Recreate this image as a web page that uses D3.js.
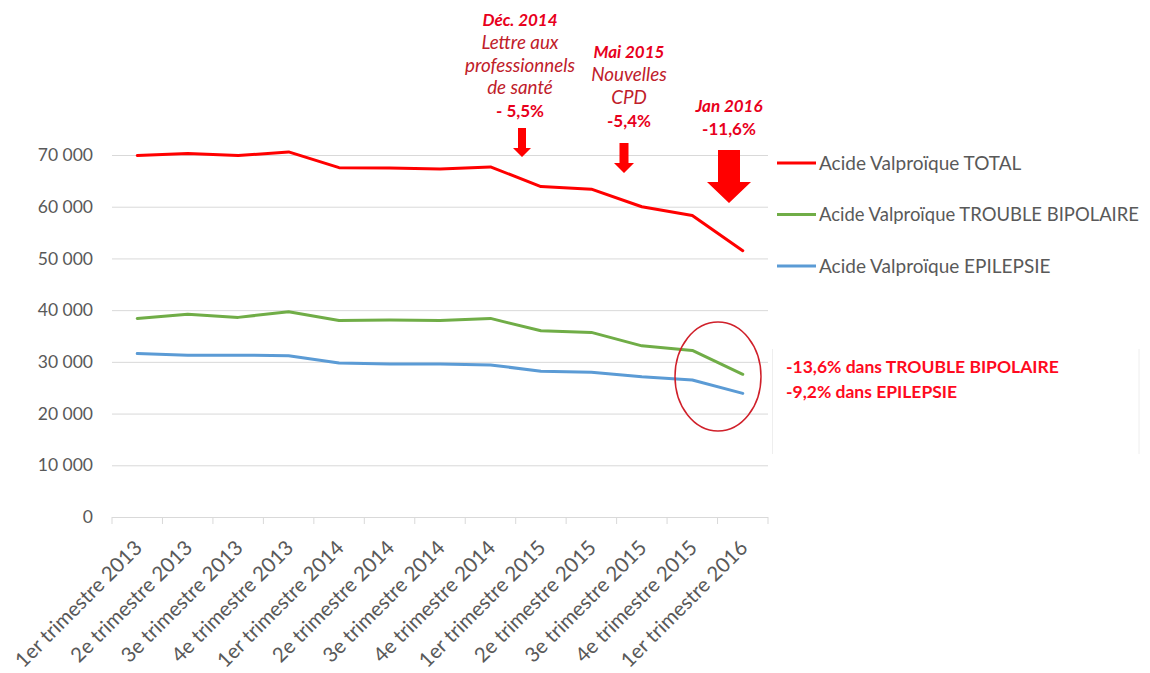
<!DOCTYPE html>
<html>
<head>
<meta charset="utf-8">
<script src="https://cdn.jsdelivr.net/npm/d3@7"></script>
<style>
  body { margin: 0; background: #fff; }
  text { font-family: Lato, "Open Sans", sans-serif; }
</style>
</head>
<body>
<div id="chart"></div>
<script>
// chart data
var quarters = ["1er trimestre 2013", "2e trimestre 2013", "3e trimestre 2013", "4e trimestre 2013",
  "1er trimestre 2014", "2e trimestre 2014", "3e trimestre 2014", "4e trimestre 2014",
  "1er trimestre 2015", "2e trimestre 2015", "3e trimestre 2015", "4e trimestre 2015",
  "1er trimestre 2016"];
var totalValues   = [69900, 70300, 69900, 70600, 67550, 67500, 67300, 67700, 63900, 63400, 60000, 58300, 51500];
var bipolarValues = [38400, 39200, 38600, 39700, 38000, 38100, 38000, 38400, 36000, 35700, 33100, 32200, 27600];
var epilepsyValues = [31600, 31300, 31300, 31200, 29800, 29600, 29600, 29400, 28200, 28000, 27100, 26500, 23900];
var yTicks = [0, 10000, 20000, 30000, 40000, 50000, 60000, 70000];

var series = [
  {name: "Acide Valproïque TOTAL", values: totalValues, color: "#FF0000"},
  {name: "Acide Valproïque TROUBLE BIPOLAIRE", values: bipolarValues, color: "#70AD47"},
  {name: "Acide Valproïque EPILEPSIE", values: epilepsyValues, color: "#5B9BD5"}
];

//SVG size
var svgWidth = 1150;
var svgHeight = 673;

var svg = d3.select("#chart")
  .append("svg")
  .attr("width", svgWidth)
  .attr("height", svgHeight);

//scales
var xScale = d3.scaleBand()
  .domain(quarters)
  .range([112, 768]);

var yScale = d3.scaleLinear()
  .domain([0, 70000])
  .range([517, 155]);

var fmt = function(d) { return d3.format(",")(d).replace(",", " "); };

//gridlines + y labels
var leftAxis = d3.axisLeft(yScale)
  .tickValues(yTicks)
  .tickSize(-(768 - 112))
  .tickPadding(19)
  .tickFormat(fmt);

var yAxisG = svg.append("g")
  .attr("transform", "translate(112,0)")
  .call(leftAxis);
yAxisG.select(".domain").remove();
yAxisG.selectAll("line").attr("stroke", "#D9D9D9").attr("stroke-width", 1);
yAxisG.selectAll("text")
  .attr("fill", "#595959")
  .style("font-size", "17.5px");

//x axis tick marks at band edges
var edges = quarters.map(function(q) { return xScale(q); }).concat([xScale.range()[1]]);
svg.append("g").selectAll("line")
  .data(edges)
  .enter().append("line")
  .attr("x1", d => d).attr("x2", d => d)
  .attr("y1", 517).attr("y2", 524)
  .attr("stroke", "#D9D9D9");

//x labels rotated
svg.append("g").selectAll("text")
  .data(quarters)
  .enter().append("text")
  .attr("transform", d => "translate(" + (xScale(d) + xScale.bandwidth() / 2 + 1) + ",544) rotate(-45)")
  .attr("text-anchor", "end")
  .attr("dy", "0.35em")
  .attr("fill", "#595959")
  .style("font-size", "20.5px")
  .text(d => d);

//lines
var line = d3.line()
  .x((d, i) => xScale(quarters[i]) + xScale.bandwidth() / 2)
  .y(d => yScale(d));

svg.append("g").selectAll("path")
  .data(series)
  .enter().append("path")
  .attr("d", d => line(d.values))
  .attr("fill", "none")
  .attr("stroke", d => d.color)
  .attr("stroke-width", 3)
  .attr("stroke-linejoin", "round")
  .attr("stroke-linecap", "round");

//legend
var legend = svg.append("g").selectAll("g")
  .data(series)
  .enter().append("g")
  .attr("transform", (d, i) => "translate(777," + (163 + i * 51.5) + ")");
legend.append("line")
  .attr("x1", 0).attr("x2", 39)
  .attr("stroke", d => d.color)
  .attr("stroke-width", 3);
legend.append("text")
  .attr("x", 42)
  .attr("dy", "0.35em")
  .attr("fill", "#595959")
  .style("font-size", "19px")
  .text(d => d.name)
  .each(function() {
    // keep long names inside the picture
    if (this.getComputedTextLength() > 320) {
      d3.select(this).attr("textLength", 320).attr("lengthAdjust", "spacingAndGlyphs");
    }
  });

//annotations
var darkRed = "#C0202A";
var brightRed = "#E8001C";
var notes = [
  {x: 520, lines: [["Déc. 2014", "bold", "italic", brightRed, 26], ["Lettre aux", "normal", "italic", darkRed, 48.5],
    ["professionnels", "normal", "italic", darkRed, 71.5], ["de santé", "normal", "italic", darkRed, 93.5],
    ["- 5,5%", "bold", "normal", brightRed, 116.5]]},
  {x: 629, lines: [["Mai 2015", "bold", "italic", brightRed, 57.5], ["Nouvelles", "normal", "italic", darkRed, 80.5],
    ["CPD", "normal", "italic", darkRed, 103.5], ["-5,4%", "bold", "normal", brightRed, 126.5]]},
  {x: 729, lines: [["Jan 2016", "bold", "italic", brightRed, 111.5], ["-11,6%", "bold", "normal", brightRed, 135]]}
];
notes.forEach(function(n) {
  svg.append("g").selectAll("text")
    .data(n.lines)
    .enter().append("text")
    .attr("x", n.x)
    .attr("y", d => d[4])
    .attr("text-anchor", "middle")
    .attr("fill", d => d[3])
    .style("font-size", d => d[1] === "bold" ? "17px" : "18.8px")
    .style("font-weight", d => d[1])
    .style("font-style", d => d[2])
    .text(d => d[0]);
});

//arrows: cx, top, shaft half width, head start, head half width, tip
var arrows = [
  [522, 128, 4, 148, 9, 157],
  [624, 143, 4.5, 163, 10, 173],
  [729, 150, 11, 182, 22, 203]
];
svg.append("g").selectAll("path")
  .data(arrows)
  .enter().append("path")
  .attr("d", a => "M" + (a[0] - a[2]) + "," + a[1] + "H" + (a[0] + a[2]) + "V" + a[3] +
    "H" + (a[0] + a[4]) + "L" + a[0] + "," + a[5] + "L" + (a[0] - a[4]) + "," + a[3] +
    "H" + (a[0] - a[2]) + "Z")
  .attr("fill", "#FF0000");

//ellipse
svg.append("ellipse")
  .attr("cx", 718).attr("cy", 376.5)
  .attr("rx", 43).attr("ry", 54.5)
  .attr("fill", "none")
  .attr("stroke", "#D0202A")
  .attr("stroke-width", 1.5);

//text box with faint borders
svg.append("g").selectAll("line")
  .data([772.5, 1139])
  .enter().append("line")
  .attr("x1", d => d).attr("x2", d => d)
  .attr("y1", 349).attr("y2", 454)
  .attr("stroke", "#EEEEEE");

svg.append("g").selectAll("text")
  .data([["-13,6% dans TROUBLE BIPOLAIRE", 373], ["-9,2% dans EPILEPSIE", 397.5]])
  .enter().append("text")
  .attr("x", 786)
  .attr("y", d => d[1])
  .attr("fill", "#FF0A1E")
  .style("font-size", "17.5px")
  .style("font-weight", "bold")
  .text(d => d[0]);
</script>
</body>
</html>
